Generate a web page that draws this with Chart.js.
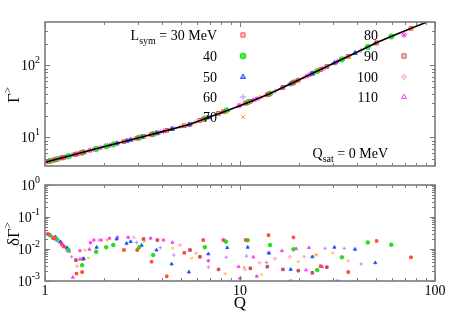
<!DOCTYPE html>
<html>
<head>
<meta charset="utf-8">
<script src="https://cdn.jsdelivr.net/npm/chart.js"></script>
<style>
  html, body { margin: 0; padding: 0; background: #fff; }
  #wrap { position: relative; width: 449px; height: 315px; }
  canvas { position: absolute; left: 0; }
</style>
</head>
<body>
<div id="wrap">
  <canvas id="topChart" width="449" height="175" style="top:0"></canvas>
  <canvas id="bottomChart" width="449" height="140" style="top:175px"></canvas>
</div>
<script>
const serif = '"Liberation Serif", "DejaVu Serif", serif';

// fitted curve (black line)
const curveQ = [1, 1.5, 2, 3, 4, 5.5, 8, 10, 14, 20, 30, 40, 50, 60, 75, 91];
const curveG = [4.5, 6.0, 7.4, 9.8, 12.0, 15.1, 21.9, 27.4, 39.8, 62.7, 106, 153, 206, 253, 324, 400];

const lsym = [30, 40, 50, 60, 70, 80, 90, 100, 110];

const q30 = [1.04, 1.12, 1.22, 1.45, 1.55, 2.54, 2.97, 3.52, 4.21, 5.18, 6.48, 8.21, 10.7, 14.0, 18.8, 25.9, 35.9, 50.2, 75.3];
const g30 = [4.63, 4.88, 5.18, 5.86, 6.14, 8.72, 9.74, 11.0, 12.5, 14.5, 17.9, 22.7, 29.9, 39.7, 57.9, 87.5, 133, 206, 326];
const d30 = [0.029, 0.022, 0.014, 0.0017, 0.0019, 0.0093, 0.0093, 0.004, 0.0014, 0.0076, 0.019, 0.019, 0.019, 0.027, 0.023, 0.0029, 0.0019, 0.0178, 0.0055];

const q40 = [1.06, 1.15, 1.32, 1.55, 1.83, 2.06, 2.24, 3.04, 3.59, 6.6, 8.48, 10.95, 14.25, 18.8, 24.9, 33.3, 45.2, 59.7];
const g40 = [4.69, 4.97, 5.48, 6.14, 6.91, 7.52, 7.98, 9.9, 11.1, 18.2, 23.5, 30.6, 40.5, 57.9, 83.2, 121, 180, 251];
const d40 = [0.027, 0.02, 0.0093, 0.0031, 0.0082, 0.0113, 0.0133, 0.0113, 0.0065, 0.0113, 0.017, 0.0187, 0.0133, 0.0098, 0.0022, 0.0055, 0.016, 0.0136];

const q50 = [1.05, 1.13, 1.2, 1.3, 1.58, 1.84, 2.33, 2.62, 2.75, 3.13, 3.73, 4.46, 5.47, 6.88, 8.6, 10.95, 14.1, 18.2, 23.5, 30.5, 38.9, 49.4];
const g50 = [4.66, 4.91, 5.12, 5.42, 6.23, 6.94, 8.2, 8.92, 9.23, 10.1, 11.5, 13.0, 15.0, 19.0, 23.8, 30.6, 40.0, 55.5, 77.2, 108, 148, 201];
const d50 = [0.028, 0.024, 0.017, 0.011, 0.005, 0.0113, 0.0205, 0.015, 0.017, 0.013, 0.0093, 0.0034, 0.0019, 0.007, 0.011, 0.0113, 0.0074, 0.0023, 0.0057, 0.0113, 0.0098, 0.0037];

const q60 = [1.07, 1.18, 1.3, 1.37, 2.95, 3.9, 4.58, 6.88, 8.5, 10.8, 13.7, 27.3, 34.2, 41.8];
const g60 = [4.72, 5.06, 5.42, 5.63, 9.7, 11.8, 13.3, 19.0, 23.6, 30.2, 38.8, 93.7, 125, 162];
const d60 = [0.026, 0.016, 0.01, 0.0057, 0.016, 0.011, 0.0065, 0.0027, 0.0055, 0.006, 0.0038, 0.0105, 0.0105, 0.0034];

const q70 = [1.08, 1.2, 1.6, 1.67, 2.08, 3.23, 4.51, 5.65, 8.4, 10.5, 12.9, 19.9, 24.7, 29.9, 35.9];
const g70 = [4.75, 5.12, 6.28, 6.48, 7.57, 10.3, 13.1, 15.5, 23.3, 29.3, 36.4, 62.3, 82.4, 105, 133];
const d70 = [0.025, 0.015, 0.0093, 0.0052, 0.019, 0.017, 0.0105, 0.0051, 0.0017, 0.0027, 0.0016, 0.004, 0.0065, 0.0076, 0.0043];

const q80 = [1.03, 1.09, 1.16, 1.23, 1.3, 1.51, 1.71, 1.78, 1.94, 2.14, 2.35, 2.67, 3.48, 4.05, 6.88, 10.0, 12.2, 18.2, 31.6];
const g80 = [4.59, 4.78, 5.0, 5.21, 5.42, 6.03, 6.58, 6.78, 7.2, 7.72, 8.25, 9.04, 10.9, 12.1, 19.0, 27.8, 34.3, 55.5, 113];
const d80 = [0.03, 0.024, 0.019, 0.013, 0.009, 0.0088, 0.0157, 0.019, 0.019, 0.0216, 0.023, 0.023, 0.0216, 0.019, 0.0043, 0.0012, 0.0014, 0.001, 0.001];

const q90 = [1.1, 1.25, 1.44, 1.57, 3.2, 3.77, 5.54, 6.23, 7.76, 11.3, 13.8, 16.6, 19.9, 23.5, 27.9];
const g90 = [4.81, 5.27, 5.83, 6.2, 10.3, 11.5, 15.2, 17.2, 21.5, 31.7, 39.1, 49.3, 62.3, 77.2, 96.4];
const d90 = [0.022, 0.012, 0.0045, 0.0049, 0.0205, 0.019, 0.0093, 0.0057, 0.0023, 0.0025, 0.0028, 0.0023, 0.0021, 0.0018, 0.0027];

const q100 = [1.12, 1.27, 1.46, 1.89, 2.86, 4.93, 5.95, 10.6, 12.6, 15.1, 18.0, 21.3, 24.4];
const g100 = [4.88, 5.33, 5.89, 7.07, 9.49, 14.0, 16.4, 29.6, 35.5, 43.6, 54.8, 68.0, 81.1];
const d100 = [0.02, 0.011, 0.0029, 0.019, 0.023, 0.0133, 0.0074, 0.0023, 0.0037, 0.005, 0.0057, 0.0057, 0.0065];

const q110 = [1.14, 1.22, 1.33, 1.39, 1.51, 1.69, 4.5, 9.83, 11.7, 14.0, 16.4, 19.4, 21.8, 22.6, 26.4];
const g110 = [4.94, 5.18, 5.51, 5.68, 6.03, 6.53, 13.1, 27.4, 32.9, 39.7, 48.6, 60.3, 70.1, 73.4, 89.7];
const d110 = [0.02, 0.015, 0.0085, 0.0013, 0.0048, 0.0098, 0.016, 0.0028, 0.0056, 0.0076, 0.0088, 0.0102, 0.0022, 0.011, 0.0028];

const qAll = [q30, q40, q50, q60, q70, q80, q90, q100, q110];
const gAll = [g30, g40, g50, g60, g70, g80, g90, g100, g110];
const dAll = [d30, d40, d50, d60, d70, d80, d90, d100, d110];

// axis ticks
const xTicks = [1, 10, 100];
const xTickLabels = ['1', '10', '100'];
const topYTicks = [10, 100];
const topYExp = ['1', '2'];
const botYTicks = [1, 0.1, 0.01, 0.001];
const botYExp = ['0', '-1', '-2', '-3'];

const styles = [
  { shape: 'rect', color: '#ff4d3a', fill: 'rgba(255,90,70,0.35)' },
  { shape: 'circle', color: '#22dd22', fill: '#44ee44' },
  { shape: 'triangle', color: '#2255ff', fill: 'rgba(60,100,255,0.55)' },
  { shape: 'cross', color: '#b888ff', fill: '#b888ff' },
  { shape: 'crossRot', color: '#ffaa00', fill: '#ffaa00' },
  { shape: 'star', color: '#ff33ee', fill: '#ff33ee' },
  { shape: 'rect', color: '#c55050', fill: 'rgba(200,80,80,0.25)' },
  { shape: 'rectRot', color: '#ffbcc6', fill: '#ffd0d8' },
  { shape: 'triangle', color: '#ff44ff', fill: 'rgba(255,68,255,0.15)' }
];

function pts(xs, ys) {
  return xs.map((x, i) => ({ x: x, y: ys[i] }));
}

function logMinor(lo, hi) {
  const out = [];
  for (let d = Math.floor(Math.log10(lo)); d < Math.ceil(Math.log10(hi)); d++) {
    for (let k = 2; k <= 9; k++) {
      const v = k * Math.pow(10, d);
      if (v > lo * 1.0001 && v < hi * 0.9999) out.push(v);
    }
  }
  return out;
}

function drawParts(ctx, parts, x, y, align) {
  let w = 0;
  parts.forEach(p => { ctx.font = p.s + 'px ' + serif; p.w = ctx.measureText(p.t).width; w += p.w; });
  let cx = align === 'right' ? x - w : align === 'center' ? x - w / 2 : x;
  ctx.textAlign = 'left';
  ctx.textBaseline = 'alphabetic';
  parts.forEach(p => { ctx.font = p.s + 'px ' + serif; ctx.fillText(p.t, cx, y + (p.dy || 0)); cx += p.w; });
}

// frame, inward ticks and power-of-ten labels
const framePlugin = {
  id: 'frame',
  afterDraw(chart, args, opts) {
    const { ctx, chartArea: a } = chart;
    const x = chart.scales.x, y = chart.scales.y;
    ctx.save();
    ctx.strokeStyle = '#7a7a7a';
    ctx.lineWidth = 1;
    ctx.beginPath();
    const xt = [[xTicks, 5], [logMinor(x.min, x.max), 3]];
    xt.forEach(([vals, len]) => vals.forEach(v => {
      const px = Math.round(x.getPixelForValue(v)) + 0.5;
      ctx.moveTo(px, a.bottom); ctx.lineTo(px, a.bottom - len);
      ctx.moveTo(px, a.top); ctx.lineTo(px, a.top + len);
    }));
    const yt = [[opts.yTicks, 5], [logMinor(y.min, y.max), 3]];
    yt.forEach(([vals, len]) => vals.forEach(v => {
      const py = Math.round(y.getPixelForValue(v)) + 0.5;
      ctx.moveTo(a.left, py); ctx.lineTo(a.left + len, py);
      ctx.moveTo(a.right, py); ctx.lineTo(a.right - len, py);
    }));
    ctx.stroke();
    ctx.lineWidth = 1.6;
    ctx.strokeRect(a.left, a.top, a.right - a.left, a.bottom - a.top);

    ctx.fillStyle = '#000';
    opts.yTicks.forEach((v, i) => {
      const py = y.getPixelForValue(v);
      drawParts(ctx, [{ t: '10', s: 14 }, { t: opts.yExp[i], s: 10, dy: -7 }], a.left - 5, py + 5, 'right');
    });
    ctx.restore();
  }
};

const topText = {
  id: 'topText',
  afterDraw(chart) {
    const ctx = chart.ctx;
    ctx.save();
    ctx.fillStyle = '#000';
    ctx.save();
    ctx.translate(19, 95);
    ctx.rotate(-Math.PI / 2);
    drawParts(ctx, [{ t: 'Γ', s: 17 }, { t: '>', s: 11, dy: -8 }], 0, 0, 'center');
    ctx.restore();

    const rows = [35, 56, 77, 97, 117, 35, 56, 77, 97];
    lsym.forEach((L, i) => {
      const col2 = i >= 5;
      const tx = col2 ? 378 : 217, mx = col2 ? 404 : 243, cy = rows[i];
      ctx.fillStyle = '#000';
      const parts = i === 0
        ? [{ t: 'L', s: 14 }, { t: 'sym', s: 10, dy: 4 }, { t: ' = ' + L + ' MeV', s: 14 }]
        : [{ t: String(L), s: 14 }];
      drawParts(ctx, parts, tx, cy + 5, 'right');
      const st = styles[i];
      ctx.fillStyle = st.fill;
      ctx.strokeStyle = st.color;
      ctx.lineWidth = 1;
      Chart.helpers.drawPoint(ctx, { pointStyle: st.shape, radius: 3, borderWidth: 1, rotation: 0 }, mx, cy);
    });

    ctx.fillStyle = '#000';
    drawParts(ctx, [{ t: 'Q', s: 14 }, { t: 'sat', s: 10, dy: 4 }, { t: ' = 0 MeV', s: 14 }], 388, 158, 'right');
    ctx.restore();
  }
};

const bottomText = {
  id: 'bottomText',
  afterDraw(chart) {
    const ctx = chart.ctx;
    const a = chart.chartArea, x = chart.scales.x;
    ctx.save();
    ctx.fillStyle = '#000';
    ctx.save();
    ctx.translate(19, 59);
    ctx.rotate(-Math.PI / 2);
    drawParts(ctx, [{ t: 'δΓ', s: 17 }, { t: '>', s: 11, dy: -8 }], 0, 0, 'center');
    ctx.restore();
    ctx.font = '14px ' + serif;
    ctx.textAlign = 'center';
    ctx.textBaseline = 'middle';
    xTicks.forEach((v, i) => ctx.fillText(xTickLabels[i], x.getPixelForValue(v), a.bottom + 10));
    ctx.font = '17px ' + serif;
    ctx.fillText('Q', x.getPixelForValue(10), a.bottom + 23);
    ctx.restore();
  }
};

function makeChart(id, datasets, yMin, yMax, padTop, xHeight, frameOpts, extra) {
  return new Chart(document.getElementById(id), {
    type: 'scatter',
    data: { datasets: datasets },
    options: {
      responsive: false,
      animation: false,
      events: [],
      layout: { padding: { top: padTop, right: 14, left: 0, bottom: 0 } },
      scales: {
        x: {
          type: 'logarithmic', min: 1, max: 100,
          ticks: { display: false }, grid: { display: false }, border: { display: false },
          afterFit: s => { s.height = xHeight; }
        },
        y: {
          type: 'logarithmic', min: yMin, max: yMax,
          ticks: { display: false }, grid: { display: false }, border: { display: false },
          afterFit: s => { s.width = 45; }
        }
      },
      plugins: {
        legend: { display: false },
        tooltip: { enabled: false },
        frame: frameOpts
      }
    },
    plugins: [framePlugin, extra]
  });
}

const topSets = [{
  data: pts(curveQ, curveG), showLine: true, pointRadius: 0,
  borderColor: '#000', borderWidth: 1.6, order: 0
}];
const botSets = [];
lsym.forEach((L, i) => {
  const st = styles[i];
  topSets.push({
    data: pts(qAll[i], gAll[i]), pointStyle: st.shape, pointRadius: 2.6,
    borderColor: st.color, backgroundColor: st.fill, borderWidth: 1, order: 1
  });
  botSets.push({
    data: pts(qAll[i], dAll[i]), pointStyle: st.shape, pointRadius: 1.8,
    borderColor: st.color, backgroundColor: st.color, borderWidth: 1, order: 1
  });
});

makeChart('topChart', topSets, 4, 400, 22, 9, { yTicks: topYTicks, yExp: topYExp }, topText);
makeChart('bottomChart', botSets, 0.001, 1, 10, 34, { yTicks: botYTicks, yExp: botYExp }, bottomText);
</script>
</body>
</html>
